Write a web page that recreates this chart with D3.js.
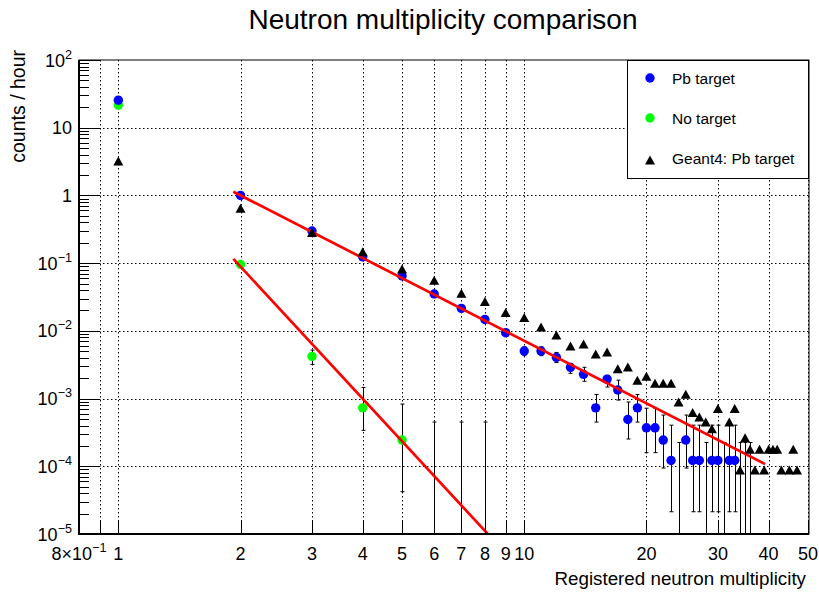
<!DOCTYPE html>
<html>
<head>
<meta charset="utf-8">
<script src="https://cdn.jsdelivr.net/npm/d3@7"></script>
<style>
  body { margin: 0; background: #fff; }
  svg { display: block; font-family: "Liberation Sans", Arial, Helvetica, sans-serif; }
</style>
</head>
<body>
<svg id="chart" width="819" height="594"></svg>
<script>
// ---- data (counts / hour) ----
const pbN   = [1,2,3,4,5,6,7,8,9,10,11,12,13,14,15,16,17,18,19,20,21,22,23,25,26,27,29,30,32,33];
const pbVal = [25.5,1.0,0.298,0.124,0.0645,0.035,0.0215,0.0147,0.0094,0.00503,0.00503,0.00406,0.00289,0.00228,0.00073,
               0.00194,0.00134,0.00049,0.00073,0.00037,0.00037,0.000244,0.000122,0.000244,0.000122,0.000122,0.000122,0.000122,0.000122,0.000122];
const pbLo  = [25.4,0.989,0.292,0.12,0.0617,0.0329,0.0199,0.0134,0.0083,0.0043,0.0043,0.0034,0.00236,0.0018,0.00045,
               0.00148,0.00095,0.000253,0.00045,0.000159,0.000159,0.0000942,0.0000213,0.0000942,0.0000213,0.0000213,0.0000213,0.0000213,0.0000213,0.0000213];
const pbHi  = [25.6,1.011,0.304,0.128,0.0673,0.0371,0.0231,0.016,0.0105,0.0058,0.0058,0.0048,0.00331,0.0029,0.00115,
               0.0022,0.00187,0.00089,0.00115,0.00072,0.00072,0.000571,0.000405,0.000571,0.000405,0.000405,0.000405,0.000405,0.000405,0.000405];
// empty Pb bins: only the upper error bar is visible
const pbZeroN  = [24,28,31,34,35,36];
const pbZeroHi = 0.000225;

const noN   = [1,2,3,4,5];
const noVal = [21.6,0.096,0.0042,0.00073,0.000244];
const noLo  = [21.5,0.091,0.0032,0.00034,0.0000422];
const noHi  = [21.7,0.101,0.0052,0.00146,0.00083];
const noZeroN  = [6,7,8];
const noZeroHi = 0.00045;

const g4N   = [1,2,3,4,5,6,7,8,9,10,11,12,13,14,15,16,17,18,19,20,21,22,23,24,25,26,27,28,29,30,
               32,33,34,35,36,37,38,39,40,41,42,43,45,46,47];
const g4Val = [3.22,0.645,0.283,0.147,0.0818,0.0557,0.0358,0.0271,0.0186,0.0157,0.0114,0.00867,0.00596,0.00638,0.00454,
               0.00486,0.00275,0.00292,0.00186,0.00213,0.00169,0.00169,0.00169,0.000887,0.00116,0.000621,0.000533,0.00045,0.000357,0.000716,
               0.00045,0.000716,0.0000879,0.000265,0.000179,0.0000879,0.000179,0.0000879,0.000179,0.000179,0.000179,0.0000879,0.0000879,0.000179,0.0000879];

// power-law fits: log10(y) = a + b*log10(n), drawn over [from, to]
const fitPb = { a: 0.924, b: -3.07, from: 1.92, to: 39.2 };
const fitNo = { a: 0.899, b: -6.48, from: 1.92, to: 9 };

// axis ticks / labels
const xTicks  = [0.9,1,2,3,4,5,6,7,8,9,10,20,30,40,50];
const xLabels = [[0.8,"8×10","−1"],[1,"1"],[2,"2"],[3,"3"],[4,"4"],[5,"5"],[6,"6"],[7,"7"],[8,"8"],[9,"9"],
                 [10,"10"],[20,"20"],[30,"30"],[40,"40"],[50,"50"]];
const yLabels = [[1e-5,"10","−5"],[1e-4,"10","−4"],[1e-3,"10","−3"],[1e-2,"10","−2"],[1e-1,"10","−1"],
                 [1,"1"],[10,"10"],[100,"10","2"]];

// ---- layout ----
const L = 79, R = 809, T = 60, B = 534;
const svg = d3.select("#chart");
svg.append("rect").attr("width", 819).attr("height", 594).attr("fill", "#fff");

const x = d3.scaleLog().domain([0.8, 50.3]).range([L, R]);
const y = d3.scaleLog().domain([1e-5, 100]).range([B, T]);

svg.append("defs").append("clipPath").attr("id", "plot")
  .append("rect").attr("x", L).attr("y", T).attr("width", R - L).attr("height", B - T);

// grid
const grid = svg.append("g").attr("stroke", "#000").attr("stroke-width", 1).attr("stroke-dasharray", "1.5,2.5");
grid.selectAll(".gx").data(xTicks).join("line")
  .attr("x1", d => Math.round(x(d)) + 0.5).attr("x2", d => Math.round(x(d)) + 0.5)
  .attr("y1", T).attr("y2", B);
grid.selectAll(".gy").data([1e-4,1e-3,1e-2,1e-1,1,10]).join("line")
  .attr("x1", L).attr("x2", R)
  .attr("y1", d => Math.round(y(d)) + 0.5).attr("y2", d => Math.round(y(d)) + 0.5);

const plot = svg.append("g").attr("clip-path", "url(#plot)");

// error bars
function errBars(ns, lo, hi) {
  const g = plot.append("g").attr("stroke", "#000").attr("stroke-width", 1);
  ns.forEach((n, i) => {
    const px = Math.round(x(n)) + 0.5;
    const yl = lo[i] > 0 ? y(lo[i]) : B + 5;
    g.append("line").attr("x1", px).attr("x2", px).attr("y1", y(hi[i])).attr("y2", yl);
    g.append("line").attr("x1", px - 2).attr("x2", px + 2).attr("y1", y(hi[i])).attr("y2", y(hi[i]));
    if (lo[i] > 0) g.append("line").attr("x1", px - 2).attr("x2", px + 2).attr("y1", yl).attr("y2", yl);
  });
}
errBars(noN, noLo, noHi);
errBars(noZeroN, noZeroN.map(() => 0), noZeroN.map(() => noZeroHi));
errBars(pbN, pbLo, pbHi);
errBars(pbZeroN, pbZeroN.map(() => 0), pbZeroN.map(() => pbZeroHi));

// markers
plot.append("g").selectAll("circle").data(noN).join("circle")
  .attr("cx", d => x(d)).attr("cy", (d, i) => y(noVal[i])).attr("r", 4.7).attr("fill", "#00ff00");
plot.append("g").selectAll("circle").data(pbN).join("circle")
  .attr("cx", d => x(d)).attr("cy", (d, i) => y(pbVal[i])).attr("r", 4.7).attr("fill", "#0000ff");

// fits
const fitLine = d3.line().x(d => x(d[0])).y(d => y(d[1]));
[fitPb, fitNo].forEach(f => {
  const pts = [f.from, f.to].map(n => [n, Math.pow(10, f.a + f.b * Math.log10(n))]);
  plot.append("path").attr("d", fitLine(pts)).attr("fill", "none")
    .attr("stroke", "#ff0000").attr("stroke-width", 2.7);
});

// Geant4 triangles
const tri = (w, h) => `M0,${-h/2}L${w/2},${h/2}L${-w/2},${h/2}Z`;
plot.append("g").selectAll("path").data(g4N).join("path")
  .attr("d", tri(10, 9))
  .attr("transform", (d, i) => `translate(${x(d)},${y(g4Val[i])})`)
  .attr("fill", "#000");

// frame
svg.append("rect").attr("x", L).attr("y", T).attr("width", R - L).attr("height", B - T)
  .attr("fill", "none").attr("stroke", "#000").attr("stroke-width", 1);
svg.append("line").attr("x1", L).attr("x2", L).attr("y1", T).attr("y2", B + 1).attr("stroke", "#000").attr("stroke-width", 2);
svg.append("line").attr("x1", L - 1).attr("x2", R).attr("y1", B).attr("y2", B).attr("stroke", "#000").attr("stroke-width", 2);

// y ticks
const yt = svg.append("g").attr("stroke", "#000").attr("stroke-width", 1);
for (let e = -5; e < 2; e++) {
  for (let k = 1; k <= 10; k++) {
    const v = k * Math.pow(10, e);
    const py = Math.round(y(v)) + 0.5;
    yt.append("line").attr("x1", L).attr("x2", L + (k === 1 || k === 10 ? 21 : 10)).attr("y1", py).attr("y2", py);
  }
}
// x ticks
svg.append("g").attr("stroke", "#000").attr("stroke-width", 1)
  .selectAll("line").data(xTicks).join("line")
  .attr("x1", d => Math.round(x(d)) + 0.5).attr("x2", d => Math.round(x(d)) + 0.5)
  .attr("y1", B).attr("y2", B - 13);

// tick labels
const FS = 18;
function label(g, main, sup) {
  g.append("tspan").text(main);
  if (sup) g.append("tspan").attr("dy", -8).attr("font-size", FS * 0.7).text(sup);
}
yLabels.forEach(([v, m, s]) => {
  const t = svg.append("text").attr("x", 72).attr("y", y(v) + 6.5)
    .attr("text-anchor", "end").attr("font-size", FS);
  label(t, m, s);
});
xLabels.forEach(([v, m, s]) => {
  const t = svg.append("text").attr("x", x(v)).attr("y", 560)
    .attr("text-anchor", "middle").attr("font-size", FS);
  label(t, m, s);
});

// titles
svg.append("text").attr("x", 443).attr("y", 29).attr("text-anchor", "middle")
  .attr("font-size", 28).text("Neutron multiplicity comparison");
svg.append("text").attr("x", 806).attr("y", 585).attr("text-anchor", "end")
  .attr("font-size", 18.8).text("Registered neutron multiplicity");
svg.append("text").attr("transform", "translate(25,50) rotate(-90)").attr("text-anchor", "end")
  .attr("font-size", 19.5).text("counts / hour");

// legend
const lg = svg.append("g");
lg.append("rect").attr("x", 627.5).attr("y", 60.5).attr("width", 181).attr("height", 118)
  .attr("fill", "#fff").attr("stroke", "#000").attr("stroke-width", 1);
const entries = [["Pb target", "#0000ff", "circle", 78], ["No target", "#00ff00", "circle", 118], ["Geant4: Pb target", "#000", "tri", 158]];
entries.forEach(([txt, col, kind, cy]) => {
  if (kind === "circle") lg.append("circle").attr("cx", 650).attr("cy", cy).attr("r", 4.7).attr("fill", col);
  else lg.append("path").attr("d", tri(10, 9)).attr("transform", `translate(650,${cy + 2})`).attr("fill", col);
  lg.append("text").attr("x", 672).attr("y", cy + 5.5).attr("font-size", 15.5).text(txt);
});
</script>
</body>
</html>
